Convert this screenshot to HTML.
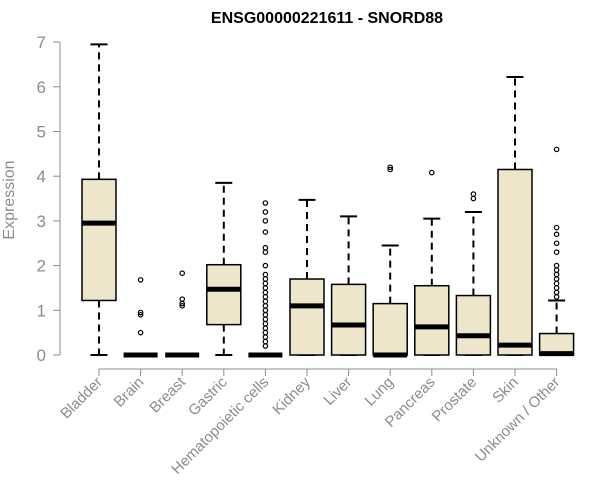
<!DOCTYPE html>
<html><head><meta charset="utf-8"><style>
body{margin:0;background:#fff;}
svg{display:block;font-family:"Liberation Sans",Arial,sans-serif;}
</style></head><body>
<svg id="c" width="600" height="500">
<text x="327" y="23" text-anchor="middle" font-weight="bold" font-size="16">ENSG00000221611 - SNORD88</text>
<text transform="translate(14,200) rotate(-90)" text-anchor="middle" font-size="16" fill="#8c8c8c">Expression</text>
</svg>
<script>
const categories=["Bladder","Brain","Breast","Gastric","Hematopoietic cells","Kidney","Liver","Lung","Pancreas","Prostate","Skin","Unknown / Other"];
const mins=[0,0,0,0,0,0,0,0,0,0,0,0];
const q1s=[1.22,0,0,0.68,0,0,0,0,0,0,0,0];
const medians=[2.95,0,0,1.47,0,1.1,0.67,0,0.63,0.43,0.22,0.03];
const q3s=[3.93,0,0,2.02,0,1.7,1.58,1.15,1.55,1.33,4.15,0.48];
const maxs=[6.95,0,0,3.85,0,3.47,3.1,2.45,3.05,3.2,6.22,1.22];
const outliers=[[],[0.5,0.9,0.95,1.68],[1.1,1.15,1.25,1.83],[],
[0.2,0.3,0.4,0.5,0.6,0.7,0.8,0.9,1.0,1.1,1.2,1.3,1.4,1.5,1.6,1.7,1.8,2.0,2.3,2.4,2.75,3.0,3.2,3.4],
[],[],[4.15,4.2],[4.08],[3.5,3.6],[],
[1.3,1.4,1.5,1.6,1.7,1.8,1.9,2.0,2.3,2.5,2.7,2.85,4.6]];
const yTicks=[0,1,2,3,4,5,6,7];
const svg=document.getElementById('c');const NS='http://www.w3.org/2000/svg';
const y=v=>355-v*44.7;const x=i=>99+i*41.6;
function mk(t,a,p){const e=document.createElementNS(NS,t);for(const k in a)e.setAttribute(k,a[k]);(p||svg).appendChild(e);return e;}
let e=mk('line',{x1:60,x2:60,y1:y(0),y2:y(7),stroke:'#8c8c8c'});


yTicks.forEach(t=>{
 let l=mk('line',{x1:53,x2:60,y1:y(t),y2:y(t),stroke:'#8c8c8c'});
 
 
 let tx=mk('text',{x:46,y:y(t)+6,'text-anchor':'end','font-size':17,fill:'#8c8c8c'});tx.textContent=t;
 
 
});
e=mk('line',{x1:x(0),x2:x(11),y1:369,y2:369,stroke:'#8c8c8c'});


const hw=17;
categories.forEach((c,i)=>{
 const cx=x(i);
 const g=mk('g',{});
 
 
 mk('line',{x1:cx,x2:cx,y1:y(q3s[i]),y2:y(maxs[i]),stroke:'#000','stroke-width':2,'stroke-dasharray':'7,5'},g);
 mk('line',{x1:cx,x2:cx,y1:y(q1s[i]),y2:y(mins[i]),stroke:'#000','stroke-width':2,'stroke-dasharray':'7,5'},g);
 mk('line',{x1:cx-hw/2,x2:cx+hw/2,y1:y(maxs[i]),y2:y(maxs[i]),stroke:'#000','stroke-width':2},g);
 mk('line',{x1:cx-hw/2,x2:cx+hw/2,y1:y(mins[i]),y2:y(mins[i]),stroke:'#000','stroke-width':2},g);
 mk('rect',{x:cx-hw,y:y(q3s[i]),width:hw*2,height:Math.max(0,y(q1s[i])-y(q3s[i])),fill:'#ede6cb',stroke:'#000','stroke-width':1.5},g);
 mk('line',{x1:cx-hw,x2:cx+hw,y1:y(medians[i]),y2:y(medians[i]),stroke:'#000','stroke-width':5},g);
 outliers[i].forEach(o=>{
  let p=mk('circle',{cx:cx,cy:y(o),r:2.2,fill:'none',stroke:'#000','stroke-width':1.2},g);
  
  
 });
 let t=mk('line',{x1:cx,x2:cx,y1:369,y2:376,stroke:'#8c8c8c'});
 
 
 let tx=mk('text',{x:cx+4,y:383,'text-anchor':'end','font-size':15,fill:'#8c8c8c',transform:`rotate(-45 ${cx+4} 383)`});tx.textContent=c;
 
 
});
</script>
</body></html>
